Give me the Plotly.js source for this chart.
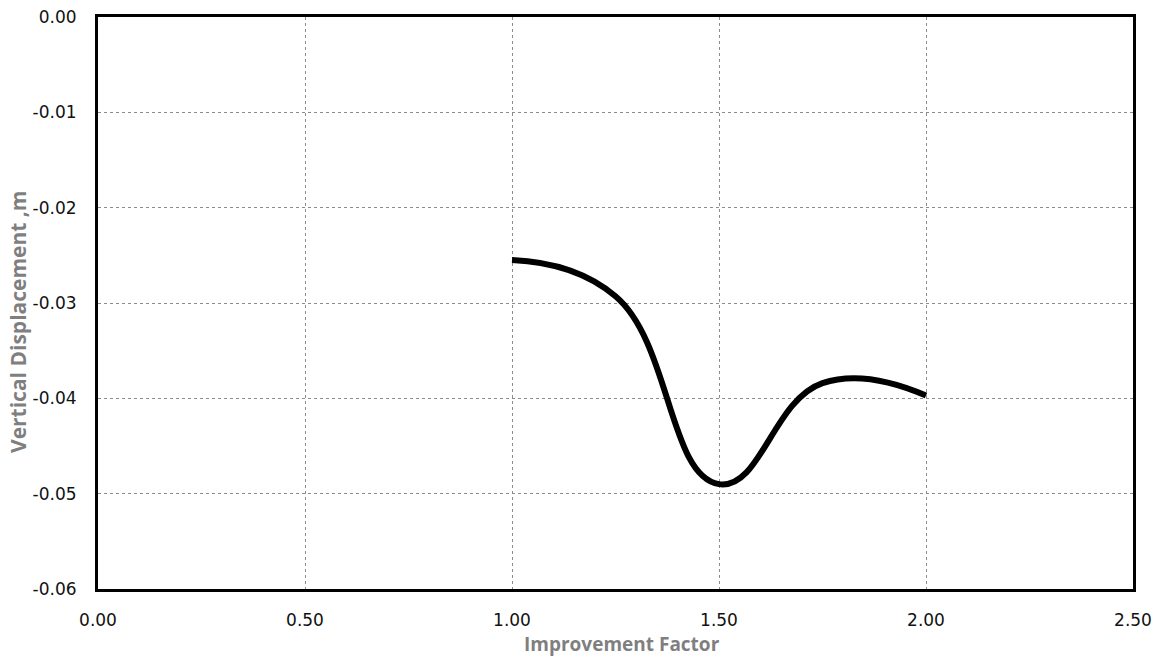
<!DOCTYPE html>
<html>
<head>
<meta charset="utf-8">
<script src="https://cdn.plot.ly/plotly-3.0.1.min.js"></script>
<style>html,body{margin:0;padding:0;background:#fff;}#chart{width:1166px;height:659px;}</style>
</head>
<body>
<div id="chart"></div>
<script>
const improvementFactor = [1.0, 1.25, 1.5, 1.75, 2.0];
const verticalDisplacement = [-0.0255, -0.0293, -0.0490, -0.0384, -0.0397];
const xTickVals = [0, 0.5, 1.0, 1.5, 2.0, 2.5];
const xTickText = ["0.00", "0.50", "1.00", "1.50", "2.00", "2.50"];
const yTickVals = [0, -0.01, -0.02, -0.03, -0.04, -0.05, -0.06];
const yTickText = ["0.00", "-0.01", "-0.02", "-0.03", "-0.04", "-0.05", "-0.06"];
const xTitle = 'Improvement Factor';
const yTitle = 'Vertical Displacement ,m';

const trace = {
  x: improvementFactor,
  y: verticalDisplacement,
  type: 'scatter',
  mode: 'lines',
  line: {color: '#000000', width: 6, shape: 'spline', smoothing: 1.3},
  hoverinfo: 'x+y'
};

const tickFont = {family: 'DejaVu Sans, Verdana, sans-serif', size: 17, color: '#111111'};
const titleFontX = {family: 'Open Sans, sans-serif', size: 19, color: '#7f7f7f', weight: 'bold'};
const titleFontY = {family: 'Open Sans, sans-serif', size: 21, color: '#7f7f7f', weight: 'bold'};

const layout = {
  width: 1166, height: 659,
  margin: {l: 98, r: 33, t: 17, b: 70, pad: 0},
  paper_bgcolor: '#ffffff', plot_bgcolor: '#ffffff',
  showlegend: false,
  xaxis: {
    range: [0, 2.5], tickvals: xTickVals, ticktext: xTickText,
    showgrid: true, gridcolor: '#8c8c8c', gridwidth: 1, griddash: 'dot',
    zeroline: false, showline: true, linecolor: '#000', linewidth: 3, mirror: true,
    ticks: '', tickfont: tickFont, ticklabelstandoff: 14
  },
  yaxis: {
    range: [-0.06, 0], tickvals: yTickVals, ticktext: yTickText,
    showgrid: true, gridcolor: '#8c8c8c', gridwidth: 1, griddash: 'dot',
    zeroline: false, showline: true, linecolor: '#000', linewidth: 3, mirror: true,
    ticks: '', tickfont: tickFont, ticklabelstandoff: 15
  },
  annotations: [
    {text: xTitle, font: titleFontX, xref: 'paper', yref: 'paper',
     x: (622 - 98) / 1035, y: -(644 - 589) / 572, xanchor: 'center', yanchor: 'middle', showarrow: false},
    {text: yTitle, font: titleFontY, xref: 'paper', yref: 'paper', textangle: -90,
     x: -(98 - 18) / 1035, y: 1 - (322 - 17) / 572, xanchor: 'center', yanchor: 'middle', showarrow: false}
  ]
};

Plotly.newPlot('chart', [trace], layout, {displayModeBar: false, staticPlot: true});
</script>
</body>
</html>
